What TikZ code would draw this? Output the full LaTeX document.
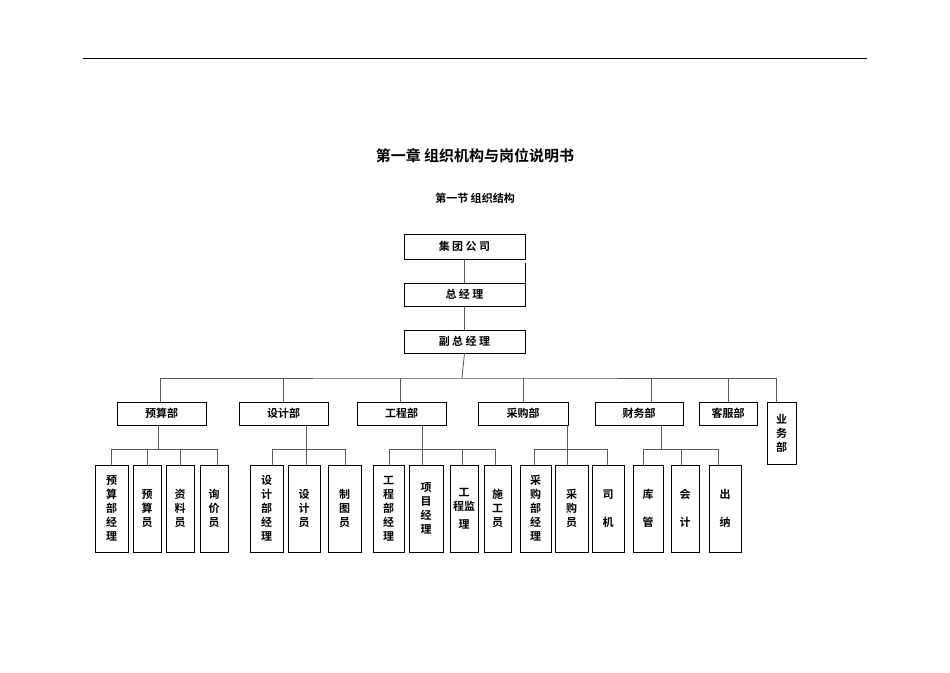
\documentclass[tikz,border=0pt]{standalone}
\usepackage{fontspec}
\setmainfont{Noto Sans CJK SC}[BoldFont={Noto Sans CJK SC Bold}]
\begin{document}
\begin{tikzpicture}[x=1pt,y=-1pt,
  box/.style={draw=black,line width=0.8pt,inner sep=0pt,outer sep=0pt,align=center,font=\bfseries\fontsize{11}{14}\selectfont},
  conn/.style={draw=black!65,line width=0.8pt}]
\useasboundingbox (0,0) rectangle (950,672);
\newcommand\bx[6]{\node[box,minimum width={(#4-#2)*1pt},minimum height={(#5-#3)*1pt}] (#1) at ({(#2+#4)/2},{(#3+#5)/2}) {#6};}
\coordinate (L1) at (83,58); \coordinate (L2) at (867,58);
\draw[line width=0.8pt] (L1) -- (L2);
\node[font=\bfseries\fontsize{15}{18}\selectfont] (t1) at (475,156) {第一章\ 组织机构与岗位说明书};
\node[font=\bfseries\fontsize{11}{14}\selectfont] (t2) at (475,198) {第一节\ 组织结构};
\bx{jt}{404}{234}{525}{259}{集\ 团\ 公\ 司}
\bx{zj}{404}{283}{525}{306}{总\ 经\ 理}
\bx{fz}{404}{330}{525}{353}{副\ 总\ 经\ 理}
\coordinate (tk1) at (525,263); \coordinate (tk2) at (525,283);
\draw[line width=0.8pt] (tk1) -- (tk2);
\draw[conn] (jt) -- (zj); \draw[conn] (zj) -- (fz);
% departments
\bx{ys}{117}{402}{206}{425}{预算部}
\bx{sj}{239}{402}{328}{425}{设计部}
\bx{gc}{357}{402}{446}{425}{工程部}
\bx{cg}{478}{402}{568}{425}{采购部}
\bx{cw}{595}{402}{683}{425}{财务部}
\bx{kf}{699}{402}{757}{425}{客服部}
\bx{yw}{767}{402}{796}{464}{业\\务\\部}
\coordinate (bus) at (462,378);
\draw[conn] (fz.south) -- (bus);
\draw[conn] (ys.north -| 160,0) |- (bus) -| (yw.north -| 776,0);
\foreach \n/\x in {sj/283,gc/400,cg/523,cw/651,kf/728}{\draw[conn] (\n.north -| \x,0) -- (\x,378);}
% children
\bx{a1}{95}{465}{128}{552}{预\\算\\部\\经\\理}
\bx{a2}{133}{465}{161}{552}{预\\算\\员}
\bx{a3}{166}{465}{194}{552}{资\\料\\员}
\bx{a4}{200}{465}{228}{552}{询\\价\\员}
\bx{b1}{250}{465}{283}{552}{设\\计\\部\\经\\理}
\bx{b2}{288}{465}{320}{552}{设\\计\\员}
\bx{b3}{328}{465}{361}{552}{制\\图\\员}
\bx{c1}{373}{465}{404}{552}{工\\程\\部\\经\\理}
\bx{c2}{409}{465}{443}{552}{项\\目\\经\\理}
\bx{c3}{450}{465}{478}{552}{工\\程监\\[4pt]理}
\bx{c4}{484}{465}{511}{552}{施\\工\\员}
\bx{d1}{520}{465}{551}{552}{采\\购\\部\\经\\理}
\bx{d2}{555}{465}{588}{552}{采\\购\\员}
\bx{d3}{592}{465}{624}{552}{司\\[14pt]机}
\bx{e1}{633}{465}{663}{552}{库\\[14pt]管}
\bx{e2}{671}{465}{699}{552}{会\\[14pt]计}
\bx{e3}{709}{465}{741}{552}{出\\[14pt]纳}
% group connectors
\newcommand\grp[5]{\draw[conn] (#1.south -| #2,0) -- (#2,449); \draw[conn] (#3,449) -- (#4,449);
  \foreach \c/\x in {#5}{\draw[conn] (\c.north -| \x,0) -- (\x,449);}}
\grp{ys}{158}{111}{217}{a1/111,a2/147,a3/180,a4/217}
\grp{sj}{306}{272}{345}{b1/272,b2/306,b3/345}
\grp{gc}{422}{389}{495}{c1/389,c2/422,c3/462,c4/495}
\grp{cg}{567}{534}{607}{d1/534,d2/567,d3/607}
\grp{cw}{661}{643}{718}{e1/643,e2/681,e3/718}
\end{tikzpicture}
\end{document}
